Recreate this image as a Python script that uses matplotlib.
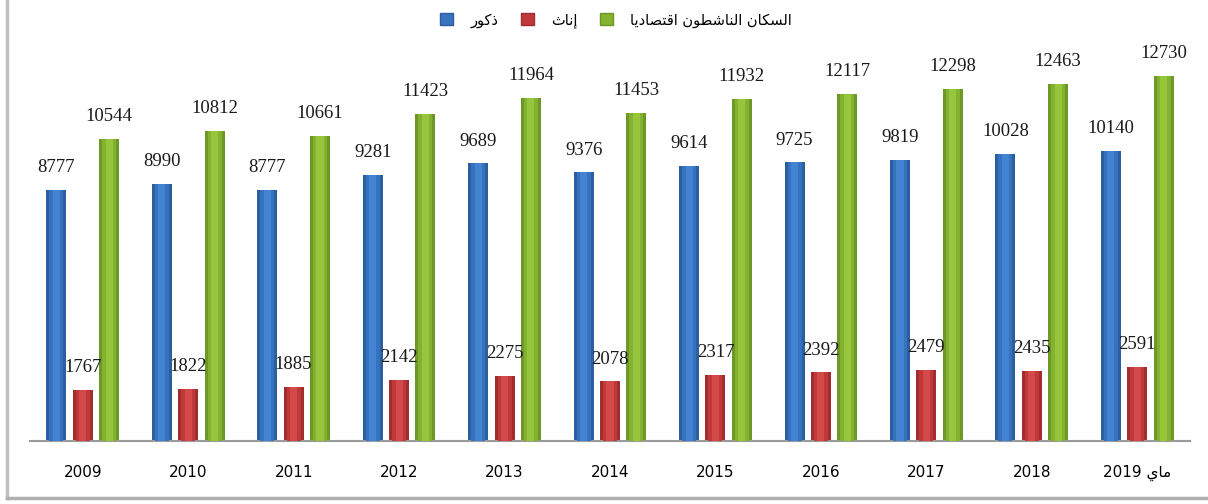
import matplotlib
matplotlib.use('Agg')
import matplotlib.pyplot as plt
from matplotlib.patches import Patch
import numpy as np

years = ['2009', '2010', '2011', '2012', '2013', '2014', '2015', '2016', '2017', '2018', '2019']
males = [8777, 8990, 8777, 9281, 9689, 9376, 9614, 9725, 9819, 10028, 10140]
females = [1767, 1822, 1885, 2142, 2275, 2078, 2317, 2392, 2479, 2435, 2591]
active = [10544, 10812, 10661, 11423, 11964, 11453, 11932, 12117, 12298, 12463, 12730]

label_males = 'ذكور'
label_females = 'إناث'
label_active = 'السكان الناشطون اقتصاديا'
month = 'ماي'

# arabic letters -> (isolated presentation form, joins to next letter)
AR = {'ا': (0xFE8D, False), 'إ': (0xFE87, False), 'د': (0xFEA9, False),
      'ذ': (0xFEAB, False), 'ر': (0xFEAD, False), 'و': (0xFEED, False),
      'ت': (0xFE95, True), 'ث': (0xFE99, True), 'س': (0xFEB1, True),
      'ش': (0xFEB5, True), 'ص': (0xFEB9, True), 'ط': (0xFEC1, True),
      'ق': (0xFED5, True), 'ك': (0xFED9, True), 'ل': (0xFEDD, True),
      'م': (0xFEE1, True), 'ن': (0xFEE5, True), 'ي': (0xFEF1, True)}


def shape(text):
    out = []
    for i, ch in enumerate(text):
        if ch not in AR:
            out.append(ch)
            continue
        base, dual = AR[ch]
        prev_j = i > 0 and text[i - 1] in AR and AR[text[i - 1]][1]
        next_j = dual and i < len(text) - 1 and text[i + 1] in AR
        off = 3 if (prev_j and next_j) else 1 if prev_j else 2 if next_j else 0
        out.append(chr(base + off))
    return ''.join(reversed(out))


tick_labels = years[:-1] + [years[-1] + ' ' + shape(month)]

fig = plt.figure(figsize=(12.08, 5.04), dpi=100)
ax = fig.add_axes([30 / 1208, 63 / 504, 1160 / 1208, 401 / 504])

x = np.arange(len(years))
w = 0.19
off = 0.25
series = [
    (males, -off, ['#2c5f9f', '#3672bd', '#4283d2']),
    (females, 0, ['#a32c2e', '#bf393b', '#d44a4a']),
    (active, off, ['#6c9826', '#83b230', '#97c63c']),
]
for vals, dx, cols in series:
    ax.bar(x + dx, vals, w, color=cols[0], zorder=2)
    ax.bar(x + dx, vals, w * 0.7, color=cols[1], zorder=3)
    ax.bar(x + dx, vals, w * 0.35, color=cols[2], zorder=4)
    for xi, v in zip(x + dx, vals):
        ax.annotate(str(v), (xi, v), xytext=(0, 10), textcoords='offset points',
                    ha='center', va='bottom', fontsize=13.5,
                    family='Liberation Serif', color='#1a1a1a')

ax.set_xlim(-0.5, len(years) - 0.5)
ax.set_ylim(0, 14000)
ax.set_yticks([])
ax.set_xticks(x)
ax.set_xticklabels(tick_labels, fontsize=11, family='DejaVu Sans')
ax.tick_params(axis='x', length=0, pad=17)
for s in ['top', 'left', 'right']:
    ax.spines[s].set_visible(False)
ax.spines['bottom'].set_color('#9a9a9a')
ax.spines['bottom'].set_linewidth(1.5)

handles = [Patch(facecolor='#3672bd', edgecolor='#2c5f9f', label=shape(label_males)),
           Patch(facecolor='#bf393b', edgecolor='#a32c2e', label=shape(label_females)),
           Patch(facecolor='#83b230', edgecolor='#6c9826', label=shape(label_active))]
fig.legend(handles=handles, loc='center', bbox_to_anchor=(0.51, 0.96), ncol=3,
           frameon=False, fontsize=10.5, handlelength=0.9, handleheight=0.9,
           handletextpad=1.2, columnspacing=1.5)

# grey frame on left and bottom
fig.add_artist(plt.Line2D([7 / 1208, 7 / 1208], [6 / 504, 1], transform=fig.transFigure,
                          color='#c0c0c0', lw=2.5))
fig.add_artist(plt.Line2D([7 / 1208, 1], [6 / 504, 6 / 504], transform=fig.transFigure,
                          color='#b0b0b0', lw=2.5))

fig.savefig('out.png', dpi=100)
